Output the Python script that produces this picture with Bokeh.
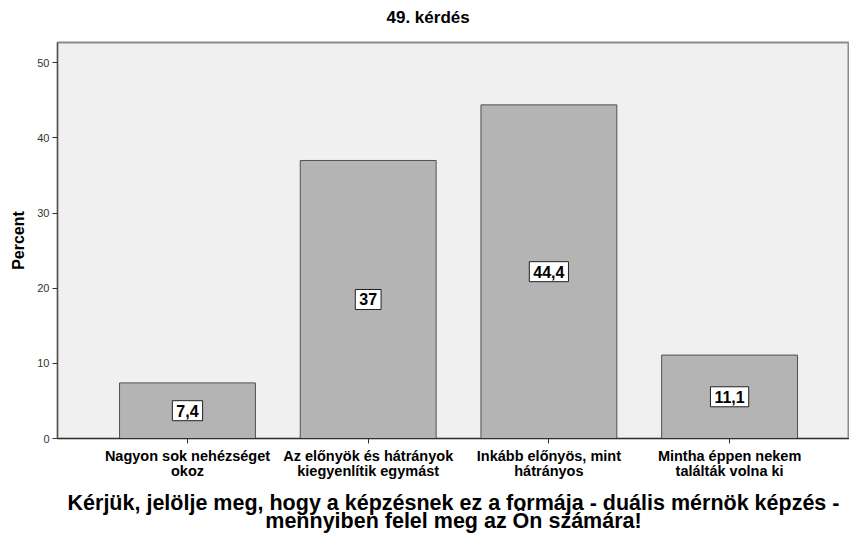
from bokeh.plotting import figure
from bokeh.models import ColumnDataSource, Label, Range1d, FixedTicker, Title
from bokeh.embed import file_html
from bokeh.resources import INLINE

categories = ["Nagyon sok nehézséget\nokoz",
              "Az előnyök és hátrányok\nkiegyenlítik egymást",
              "Inkább előnyös, mint\nhátrányos",
              "Mintha éppen nekem\ntalálták volna ki"]
values = [7.4, 37.0, 44.4, 11.1]
value_labels = ["7,4", "37", "44,4", "11,1"]
y_ticks = [0, 10, 20, 30, 40, 50]
title_text = "49. kérdés"
x_title = "Kérjük, jelölje meg, hogy a képzésnek ez a formája - duális mérnök képzés -\nmennyiben felel meg az Ön számára!"
y_title = "Percent"

FONT = "Liberation Sans"
xs = list(range(len(categories)))
src = ColumnDataSource(dict(x=xs, top=values))

p = figure(width=849, height=535, output_backend="svg", toolbar_location=None,
           x_range=Range1d(-0.7194, 3.6636), y_range=Range1d(0, 52.7),
           min_border_left=57, min_border_top=41, min_border_bottom=97, min_border_right=0)
p.background_fill_color = "#f0f0f0"
p.border_fill_color = "white"
p.outline_line_color = "#8c8c8c"
p.outline_line_width = 2
p.grid.visible = False

p.title = Title(text=title_text, align="left", offset=329, text_font=FONT,
                text_font_size="17px", text_font_style="bold", text_color="black")
# empty spacer between the title and the frame
p.add_layout(Title(text=" ", text_font_size="2px", standoff=7), "above")

p.vbar(x="x", top="top", width=0.752, source=src, fill_color="#b4b4b4",
       line_color="#505050", line_width=1)

for xi, v, lab in zip(xs, values, value_labels):
    p.add_layout(Label(x=xi, y=v / 2, text=lab, text_align="center",
                       text_baseline="middle", text_font=FONT, text_font_size="16px",
                       text_font_style="bold", text_color="black",
                       background_fill_color="white", border_line_color="#202020",
                       border_line_width=1, padding=4))

# axes
p.xaxis.ticker = FixedTicker(ticks=xs)
p.xaxis.major_label_overrides = {i: c for i, c in zip(xs, categories)}
p.xaxis.major_label_text_font = FONT
p.xaxis.major_label_text_font_size = "14.5px"
p.xaxis.major_label_text_font_style = "bold"
p.xaxis.major_label_text_color = "black"
p.xaxis.major_label_text_line_height = 0.95
p.xaxis.major_tick_out = 5
p.xaxis.major_tick_in = 0
p.xaxis.minor_tick_line_color = None
p.xaxis.axis_line_color = "#303030"
p.xaxis.major_tick_line_color = "#303030"
p.xaxis.major_label_standoff = 4
p.xaxis.axis_label = x_title
p.xaxis.axis_label_text_font = FONT
p.xaxis.axis_label_text_font_size = "21.5px"
p.xaxis.axis_label_text_font_style = "bold"
p.xaxis.axis_label_text_color = "black"
p.xaxis.axis_label_text_line_height = 0.76
p.xaxis.axis_label_standoff = 9

p.yaxis.ticker = FixedTicker(ticks=y_ticks)
p.yaxis.major_label_text_font = FONT
p.yaxis.major_label_text_font_size = "11px"
p.yaxis.major_label_text_color = "#333333"
p.yaxis.major_tick_out = 5
p.yaxis.major_tick_in = 0
p.yaxis.minor_tick_line_color = None
p.yaxis.axis_line_color = "#505050"
p.yaxis.major_tick_line_color = "#303030"
p.yaxis.major_label_standoff = 3
p.yaxis.axis_label = y_title
p.yaxis.axis_label_text_font = FONT
p.yaxis.axis_label_text_font_size = "16px"
p.yaxis.axis_label_text_font_style = "bold"
p.yaxis.axis_label_text_color = "black"
p.yaxis.axis_label_standoff = 7

open("out.html", "w").write(file_html(p, INLINE))
